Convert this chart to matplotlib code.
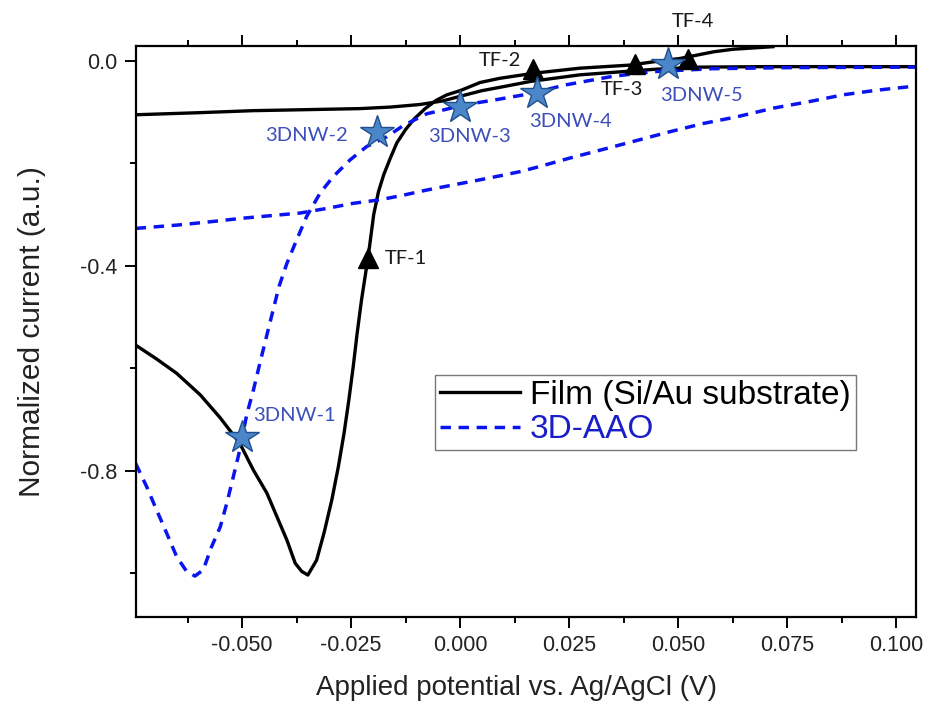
import matplotlib
matplotlib.use('Agg')
import matplotlib.pyplot as plt
from matplotlib.ticker import MultipleLocator, FormatStrFormatter

plt.rcParams['font.family'] = ['Liberation Sans', 'DejaVu Sans']
plt.rcParams['axes.unicode_minus'] = False

# Film (Si/Au substrate), cathodic sweep (right -> left)
film_fwd_x = [0.0718, 0.0627, 0.0582, 0.0505, 0.0440, 0.0390, 0.0275, 0.0168, 0.0090, 0.0046,
              0.0000, -0.0030, -0.0055, -0.0080, -0.0105, -0.0125, -0.0145, -0.0160, -0.0175,
              -0.0187, -0.0198, -0.0210, -0.0226, -0.0236, -0.0245, -0.0255, -0.0266, -0.0279,
              -0.0294, -0.0312, -0.0329, -0.0349, -0.0363, -0.0378, -0.0397, -0.0420, -0.0443,
              -0.0474, -0.0505, -0.0550, -0.0596, -0.0650, -0.0696, -0.0744]
film_fwd_y = [0.028, 0.023, 0.018, 0.005, -0.002, -0.008, -0.014, -0.024, -0.034, -0.042,
              -0.058, -0.066, -0.077, -0.093, -0.113, -0.134, -0.160, -0.190, -0.222,
              -0.255, -0.300, -0.378, -0.467, -0.532, -0.597, -0.662, -0.727, -0.792,
              -0.857, -0.922, -0.975, -1.004, -0.997, -0.981, -0.936, -0.890, -0.844,
              -0.799, -0.747, -0.697, -0.652, -0.610, -0.582, -0.555]
# Film, return sweep (left -> right)
film_rev_x = [-0.0744, -0.0600, -0.0475, -0.0350, -0.0230, -0.0160, -0.0092, -0.0040, 0.0000,
              0.0050, 0.0100, 0.0161, 0.0275, 0.0370, 0.0450, 0.0550, 0.0700, 0.0850, 0.1045]
film_rev_y = [-0.105, -0.101, -0.097, -0.095, -0.093, -0.090, -0.085, -0.078, -0.069,
              -0.058, -0.050, -0.040, -0.027, -0.021, -0.016, -0.012, -0.011, -0.011, -0.011]

# 3D-AAO, first branch (left -> right through the minimum)
aao_fwd_x = [-0.0744, -0.0719, -0.0696, -0.0673, -0.0650, -0.0627, -0.0608, -0.0589, -0.0570,
             -0.0550, -0.0535, -0.0520, -0.0508, -0.0489, -0.0474, -0.0459, -0.0443, -0.0428,
             -0.0415, -0.0397, -0.0375, -0.0352, -0.0321, -0.0291, -0.0252, -0.0214, -0.0168,
             -0.0130, -0.0076, -0.0030, 0.0000, 0.0080, 0.0160, 0.0240, 0.0350, 0.0440,
             0.0580, 0.0750, 0.1045]
aao_fwd_y = [-0.786, -0.831, -0.877, -0.922, -0.968, -0.997, -1.006, -0.994, -0.949,
             -0.910, -0.864, -0.812, -0.770, -0.690, -0.643, -0.590, -0.535, -0.484,
             -0.440, -0.395, -0.350, -0.304, -0.258, -0.226, -0.193, -0.167, -0.148,
             -0.126, -0.103, -0.094, -0.087, -0.076, -0.064, -0.047, -0.030, -0.021,
             -0.015, -0.013, -0.012]
# 3D-AAO, return branch (left -> right)
aao_rev_x = [-0.0744, -0.0642, -0.0573, -0.0498, -0.0420, -0.0367, -0.0306, -0.0245, -0.0183,
             -0.0130, -0.0076, -0.0015, 0.0046, 0.0099, 0.0138, 0.0183, 0.0250, 0.0340,
             0.0420, 0.0482, 0.0558, 0.0635, 0.0719, 0.0803, 0.0879, 0.0956, 0.1045]
aao_rev_y = [-0.327, -0.320, -0.314, -0.307, -0.301, -0.297, -0.288, -0.278, -0.271,
             -0.262, -0.252, -0.242, -0.232, -0.223, -0.216, -0.206, -0.190, -0.170,
             -0.152, -0.138, -0.122, -0.109, -0.092, -0.079, -0.066, -0.057, -0.049]

tf_names = ['TF-1', 'TF-2', 'TF-3', 'TF-4']
tf_x = [-0.0210, 0.0168, 0.0401, 0.0524]
tf_y = [-0.385, -0.016, -0.006, 0.003]

nw_names = ['3DNW-1', '3DNW-2', '3DNW-3', '3DNW-4', '3DNW-5']
nw_x = [-0.0501, -0.0191, 0.0000, 0.0176, 0.0478]
nw_y = [-0.734, -0.138, -0.089, -0.063, -0.005]

# label placement (offset in points, alignment)
tf_off = [(12, 0, 'left'), (-9, 6.5, 'right'), (-9, -18.5, 'center'), (3.5, 27, 'center')]
nw_off = [(8, 15.5, 'left'), (-21, -2.5, 'right'), (7, -21.5, 'center'),
          (24, -20.5, 'center'), (23.5, -23, 'center')]

fig = plt.figure(figsize=(9.26, 7.04), dpi=100)
ax = fig.add_axes([0.1465, 0.124, 0.8423, 0.8111])

blue = '#0a14f0'
ax.plot(film_fwd_x, film_fwd_y, color='black', lw=2.4, solid_joinstyle='round',
        label='Film (Si/Au substrate)')
ax.plot(film_rev_x, film_rev_y, color='black', lw=2.4, solid_joinstyle='round')
ax.plot(aao_fwd_x, aao_fwd_y, color=blue, lw=2.5, dashes=(3.0, 2.2), label='3D-AAO')
ax.plot(aao_rev_x, aao_rev_y, color=blue, lw=2.5, dashes=(3.0, 2.2))

ax.plot(tf_x, tf_y, ls='none', marker='^', ms=15, color='black', zorder=5)
ax.plot(nw_x, nw_y, ls='none', marker='*', ms=25, mfc='#4a86c8', mec='#1f4f8e', mew=1.0,
        zorder=6)

for name, x, y, (dx, dy, ha) in zip(tf_names, tf_x, tf_y, tf_off):
    ax.annotate(name, (x, y), xytext=(dx, dy), textcoords='offset points', ha=ha, va='center',
                fontsize=14.5, color='#1a1a1a', family=['Lato', 'DejaVu Sans'], zorder=7)
for name, x, y, (dx, dy, ha) in zip(nw_names, nw_x, nw_y, nw_off):
    ax.annotate(name, (x, y), xytext=(dx, dy), textcoords='offset points', ha=ha, va='center',
                fontsize=14.5, color='#3d4fb8', family=['Lato', 'DejaVu Sans'], zorder=7)

ax.set_xlim(-0.0744, 0.1045)
ax.set_ylim(-1.0854, 0.0299)

ax.xaxis.set_major_locator(MultipleLocator(0.025))
ax.xaxis.set_minor_locator(MultipleLocator(0.0125))
ax.xaxis.set_major_formatter(FormatStrFormatter('%.3f'))
ax.yaxis.set_major_locator(MultipleLocator(0.4))
ax.yaxis.set_minor_locator(MultipleLocator(0.2))
ax.yaxis.set_major_formatter(FormatStrFormatter('%.1f'))

ax.tick_params(which='both', direction='out', top=True, right=False, width=1.4,
               labelsize=15.5, labelcolor='#222222', pad=5)
ax.tick_params(which='major', length=8)
ax.tick_params(which='minor', length=4.5)
for s in ax.spines.values():
    s.set_linewidth(1.6)

ax.set_xlabel('Applied potential vs. Ag/AgCl (V)', fontsize=20, color='#222222')
ax.set_ylabel('Normalized current (a.u.)', fontsize=21.5, color='#222222')
ax.xaxis.set_label_coords(0.488, -0.125)
ax.xaxis.label.set_va('center')
ax.yaxis.set_label_coords(-0.133, 0.5)
ax.yaxis.label.set_va('center')

leg = ax.legend(loc='upper left', bbox_to_anchor=(0.384, 0.423), borderaxespad=0,
                fontsize=24, frameon=True, fancybox=False, handlelength=2.4,
                handletextpad=0.3, labelspacing=0.1, borderpad=0.15)
leg.get_frame().set_edgecolor('#555555')
leg.get_frame().set_linewidth(1.0)
leg.get_texts()[1].set_color('#1a1ec8')

fig.savefig('out.png', dpi=100)
